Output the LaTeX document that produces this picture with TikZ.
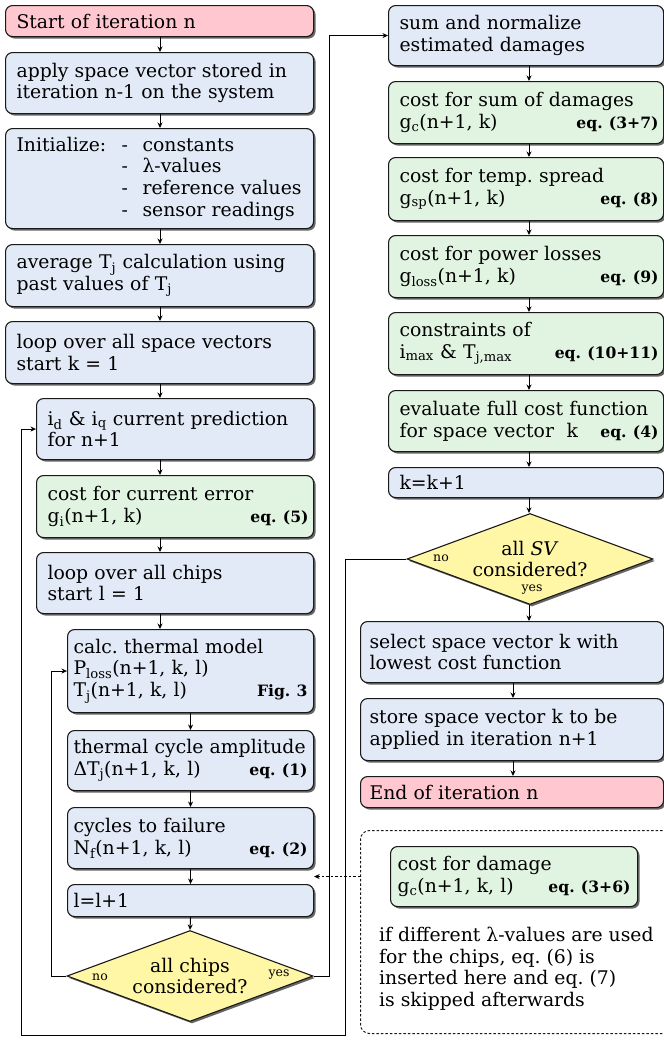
\documentclass[tikz,border=0pt]{standalone}
\usepackage{fontspec}
\setmainfont{DejaVu Serif}
\usetikzlibrary{arrows.meta,shapes.geometric,shadows,calc}
\frenchspacing
\definecolor{cpink}{HTML}{FFC8D1}
\definecolor{cblue}{HTML}{E1EAF6}
\definecolor{cgreen}{HTML}{E1F4E1}
\definecolor{cyel}{HTML}{FFF7A6}
\newcommand\bxfont{\fontsize{18.8}{21.7}\selectfont\frenchspacing}
\newcommand\eqr[1]{\hfill{\fontsize{15.6}{17}\selectfont\bfseries #1}\kern-6pt}
\newcommand\eqq[1]{\hfill{\fontsize{15.6}{17}\selectfont\bfseries #1}}
\newcommand\sbs[1]{\textsubscript{#1}}
\tikzset{
  x=1pt, y=-1pt,
  shad/.style={drop shadow={shadow xshift=2pt, shadow yshift=-2pt, fill=black, opacity=.6}},
  box/.style={draw=black!90, line width=1.1pt, rounded corners=7pt, anchor=north west,
    inner xsep=0pt, inner ysep=0pt, align=left, font=\bxfont, shad},
  geo/.style n args={3}{minimum width=#1pt, minimum height=#2pt, text width=#3pt},
  bbox/.style={box, fill=cblue},
  gbox/.style={box, fill=cgreen},
  pbox/.style={box, fill=cpink},
  dia/.style={diamond, draw=black!90, line width=1.1pt, fill=cyel, aspect=2.67, inner sep=0pt,
    minimum width=246pt, minimum height=91pt, align=center, font=\bxfont, shad},
  arr/.style={line width=1pt, -{Stealth[length=5.5pt,width=5pt]}},
  lab/.style={font=\fontsize{12.5}{14}\selectfont, inner sep=0pt},
}
\begin{document}
\begin{tikzpicture}
\useasboundingbox (0,0) rectangle (664,1042);
% ---------- left column ----------
\node[pbox, geo={308}{31}{286}] (start) at (5,5) {Start of iteration n};
\node[bbox, geo={308}{61}{286}] (apply) at (5,52) {apply space vector stored in\\iteration n-1 on the system};
\node[bbox, geo={308}{100}{286}] (init) at (5,128) {\makebox[105pt][l]{Initialize:}\makebox[21pt][l]{-}constants\\
\hspace*{105pt}\makebox[21pt][l]{-}λ-values\\
\hspace*{105pt}\makebox[21pt][l]{-}reference values\\
\hspace*{105pt}\makebox[21pt][l]{-}sensor readings};
\node[bbox, geo={308}{62}{286}] (avg) at (5,244) {average T\sbs{j} calculation using\\past values of T\sbs{j}};
\node[bbox, geo={308}{62}{286}] (loopsv) at (5,321) {loop over all space vectors\\start k = 1};
\node[bbox, geo={277}{61}{255}] (pred) at (36,398) {i\sbs{d} \& i\sbs{q} current prediction\\for n+1};
\node[gbox, geo={277}{62}{255}] (costi) at (36,475) {cost for current error\\g\sbs{i}(n+1, k)\eqr{eq. (5)}};
\node[bbox, geo={277}{61}{255}] (loopch) at (36,552) {loop over all chips\\start l = 1};
\node[bbox, geo={246}{83}{234}] (therm) at (67,629) {calc. thermal model\\P\sbs{loss}(n+1, k, l)\\T\sbs{j}(n+1, k, l)\eqq{Fig. 3}};
\node[bbox, geo={246}{60}{234}] (cycamp) at (67,730) {thermal cycle amplitude\\ΔT\sbs{j}(n+1, k, l)\eqq{eq. (1)}};
\node[bbox, geo={246}{61}{234}] (fail) at (67,807) {cycles to failure\\N\sbs{f}(n+1, k, l)\eqq{eq. (2)}};
\node[bbox, geo={246}{32}{234}] (linc) at (67,884) {l=l+1};
\node[dia] (dchips) at (190,976) {all chips\\considered?};
\node[lab] (nochips) at (100,977) {no};
\node[lab] (yeschips) at (279,975) {yes};
% ---------- right column ----------
\node[bbox, geo={275}{60}{253}] (sumn) at (388,5) {sum and normalize\\estimated damages};
\node[gbox, geo={275}{62}{253}] (costc) at (388,81) {cost for sum of damages\\g\sbs{c}(n+1, k)\eqr{eq. (3+7)}};
\node[gbox, geo={275}{63}{253}] (costsp) at (388,157) {cost for temp. spread\\g\sbs{sp}(n+1, k)\eqr{eq. (8)}};
\node[gbox, geo={275}{62}{253}] (costloss) at (388,235) {cost for power losses\\g\sbs{loss}(n+1, k)\eqr{eq. (9)}};
\node[gbox, geo={275}{62}{253}] (constr) at (388,312) {constraints of\\i\sbs{max} \& T\sbs{j,max}\eqr{eq. (10+11)}};
\node[gbox, geo={275}{61}{253}] (evalc) at (388,390) {evaluate full cost function\\for space vector~ k\eqr{eq. (4)}};
\node[bbox, geo={275}{30}{253}] (kinc) at (388,467) {k=k+1};
\node[dia] (dsv) at (530,559) {all \textit{SV}\\considered?};
\node[lab] (nosv) at (441,558) {no};
\node[lab] (yessv) at (532,590) {yes};
\node[bbox, geo={303}{61}{285}] (select) at (360,621) {select space vector k with\\lowest cost function};
\node[bbox, geo={303}{62}{285}] (store) at (360,698) {store space vector k to be\\applied in iteration n+1};
\node[pbox, geo={303}{31}{285}] (endn) at (360,776) {End of iteration n};
% ---------- note ----------
\node[draw=black!90, line width=1pt, dash pattern=on 2.5pt off 2pt, rounded corners=9pt,
  anchor=north west, minimum width=320pt, minimum height=203pt, inner sep=0pt] (notebox) at (360,830) {};
\node[gbox, geo={247}{60}{233}] (costd) at (390,846) {cost for damage\\g\sbs{c}(n+1, k, l)\eqq{eq. (3+6)}};
\node[anchor=north west, inner sep=0pt, align=left, font=\bxfont] (note) at (379,927)
  {if different λ-values are used\\for the chips, eq. (6) is\\inserted here and eq. (7)\\is skipped afterwards};
% ---------- connectors ----------
\coordinate (ax1) at (160,0);
\coordinate (ax2) at (529,0);
\coordinate (ax3) at (513,0);
\foreach \a/\b in {start/apply, apply/init, init/avg, avg/loopsv, loopsv/pred, pred/costi, costi/loopch, loopch/therm}
  \draw[arr] (\a.south -| ax1) -- (\b.north -| ax1);
\foreach \a/\b in {therm/cycamp, cycamp/fail, fail/linc, linc/dchips}
  \draw[arr] (\a.south) -- (\b.north);
\foreach \a/\b in {sumn/costc, costc/costsp, costsp/costloss, costloss/constr, constr/evalc, evalc/kinc, kinc/dsv, dsv/select}
  \draw[arr] (\a.south -| ax2) -- (\b.north -| ax2);
\foreach \a/\b in {select/store, store/endn}
  \draw[arr] (\a.south -| ax3) -- (\b.north -| ax3);
\coordinate (yesx) at (329,0);
\draw[arr] (dchips.east) -| (yesx |- sumn.west) -- (sumn.west);
\coordinate (nox) at (51,0);
\draw[arr] (dchips.west) -| (nox |- therm.west) -- (therm.west);
\coordinate (lb1) at (345,1035);
\coordinate (lb2) at (21,1035);
\draw[arr] (dsv.west) -| (lb1) -- (lb2) |- (pred.west);
\draw[arr, dash pattern=on 2.5pt off 2pt] (costd.west -| notebox.west) -- (costd.west -| linc.east);
\end{tikzpicture}
\end{document}
